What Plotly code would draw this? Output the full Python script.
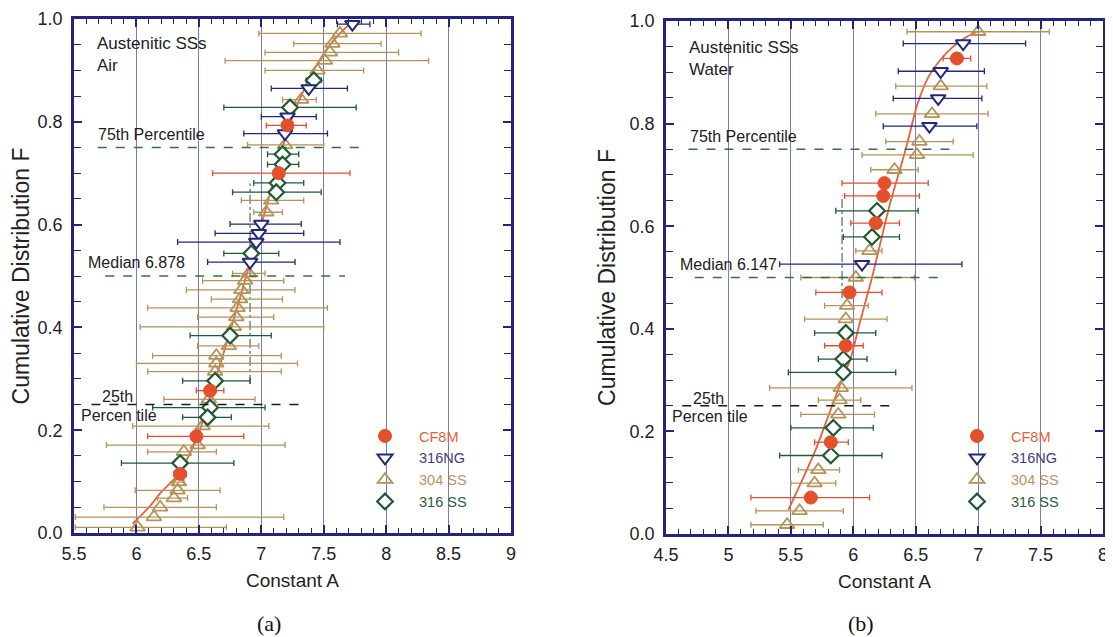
import plotly.graph_objects as go

# ---------------- Panel (a): Air ----------------
AIR_CF8M_A  = [7.21, 7.14, 6.59, 6.48, 6.35]
AIR_CF8M_F  = [0.793, 0.700, 0.277, 0.188, 0.115]
AIR_CF8M_LO = [7.04, 6.61, 6.48, 6.09, 6.30]
AIR_CF8M_HI = [7.36, 7.71, 6.70, 6.86, 6.40]

AIR_NG_A  = [7.73, 7.38, 7.21, 7.19, 7.00, 6.98, 6.96, 6.91]
AIR_NG_F  = [0.990, 0.865, 0.810, 0.777, 0.601, 0.583, 0.566, 0.527]
AIR_NG_LO = [7.61, 7.08, 7.00, 6.86, 6.75, 6.63, 6.33, 6.57]
AIR_NG_HI = [7.87, 7.69, 7.44, 7.53, 7.32, 7.34, 7.63, 7.27]

AIR_304_A  = [7.63, 7.57, 7.55, 7.51, 7.45, 7.32, 7.19, 7.08, 7.04, 6.90, 6.87, 6.84, 6.83, 6.81, 6.80,
              6.78, 6.74, 6.64, 6.64, 6.63, 6.58, 6.53, 6.49, 6.38, 6.34, 6.33, 6.30, 6.19, 6.14, 6.01]
AIR_304_F  = [0.972, 0.952, 0.935, 0.919, 0.900, 0.843, 0.755, 0.647, 0.624, 0.505, 0.491, 0.473, 0.455, 0.438, 0.420,
              0.401, 0.364, 0.345, 0.330, 0.314, 0.260, 0.208, 0.171, 0.158, 0.099, 0.083, 0.068, 0.050, 0.031, 0.011]
AIR_304_LO = [6.98, 7.26, 7.03, 6.71, 7.03, 7.17, 6.89, 6.84, 6.94, 6.77, 6.53, 6.40, 6.60, 6.09, 6.49,
              6.03, 6.49, 6.13, 6.00, 6.09, 6.22, 5.97, 5.76, 6.09, 6.30, 5.99, 6.17, 5.74, 5.51, 5.51]
AIR_304_HI = [8.28, 7.96, 8.10, 8.34, 7.82, 7.44, 7.50, 7.34, 7.17, 7.03, 7.18, 7.27, 7.17, 7.53, 7.10,
              7.50, 6.98, 7.16, 7.29, 7.16, 6.95, 7.06, 7.19, 6.64, 6.38, 6.67, 6.41, 6.64, 7.18, 6.72]

AIR_316_A  = [7.42, 7.23, 7.17, 7.17, 7.13, 7.12, 6.92, 6.75, 6.63, 6.59, 6.57, 6.35]
AIR_316_F  = [0.881, 0.828, 0.737, 0.717, 0.681, 0.663, 0.544, 0.384, 0.296, 0.244, 0.225, 0.136]
AIR_316_LO = [7.36, 6.70, 7.05, 7.05, 6.94, 6.77, 6.70, 6.43, 6.37, 6.13, 6.37, 5.88]
AIR_316_HI = [7.48, 7.76, 7.30, 7.30, 7.34, 7.48, 7.14, 7.08, 6.91, 7.03, 6.76, 6.78]

AIR_FIT_A = [5.97, 6.10, 6.20, 6.34, 6.49, 6.57, 6.66, 6.76, 6.88, 7.00, 7.10, 7.20, 7.30, 7.42, 7.52, 7.63, 7.73]
AIR_FIT_F = [0.018, 0.050, 0.080, 0.115, 0.187, 0.250, 0.320, 0.400, 0.500, 0.600, 0.686, 0.775, 0.840, 0.900, 0.940, 0.972, 0.995]

# ---------------- Panel (b): Water ----------------
WAT_CF8M_A  = [6.83, 6.25, 6.24, 6.18, 5.97, 5.94, 5.82, 5.66]
WAT_CF8M_F  = [0.927, 0.684, 0.659, 0.606, 0.471, 0.367, 0.179, 0.071]
WAT_CF8M_LO = [6.72, 5.91, 5.93, 5.98, 5.70, 5.77, 5.69, 5.18]
WAT_CF8M_HI = [6.94, 6.60, 6.53, 6.37, 6.23, 6.08, 5.96, 6.13]

WAT_NG_A  = [6.88, 6.70, 6.68, 6.61, 6.07]
WAT_NG_F  = [0.956, 0.902, 0.849, 0.795, 0.526]
WAT_NG_LO = [6.40, 6.36, 6.32, 6.24, 5.41]
WAT_NG_HI = [7.38, 7.05, 7.03, 6.99, 6.87]

WAT_304_A  = [7.00, 6.70, 6.63, 6.53, 6.51, 6.33, 6.13, 6.02, 5.95, 5.94, 5.90, 5.89, 5.88, 5.72, 5.69, 5.57, 5.47]
WAT_304_F  = [0.979, 0.873, 0.819, 0.765, 0.739, 0.710, 0.552, 0.500, 0.445, 0.419, 0.285, 0.261, 0.233, 0.125, 0.099, 0.045, 0.018]
WAT_304_LO = [6.43, 6.34, 6.18, 6.26, 6.07, 6.14, 6.02, 5.58, 5.77, 5.61, 5.33, 5.72, 5.58, 5.56, 5.50, 5.22, 5.18]
WAT_304_HI = [7.57, 7.07, 7.08, 6.80, 6.96, 6.52, 6.23, 6.49, 6.12, 6.27, 6.47, 6.06, 6.17, 5.89, 5.86, 5.92, 5.76]

WAT_316_A  = [6.19, 6.15, 5.94, 5.92, 5.92, 5.84, 5.82]
WAT_316_F  = [0.630, 0.579, 0.392, 0.341, 0.315, 0.207, 0.153]
WAT_316_LO = [5.86, 5.92, 5.69, 5.72, 5.48, 5.50, 5.41]
WAT_316_HI = [6.52, 6.37, 6.18, 6.11, 6.34, 6.16, 6.23]

WAT_FIT_A = [5.48, 5.60, 5.70, 5.80, 5.90, 5.98, 6.05, 6.15, 6.29, 6.42, 6.51, 6.60, 6.70, 6.80, 6.90, 7.00]
WAT_FIT_F = [0.047, 0.110, 0.165, 0.230, 0.295, 0.343, 0.410, 0.500, 0.640, 0.750, 0.835, 0.890, 0.925, 0.950, 0.968, 0.980]

# percentile reference lines
PCT_LEVELS = [0.25, 0.50, 0.75]
AIR_PCT_X0 = [5.64, 5.75, 5.69]
AIR_PCT_X1 = [7.31, 7.67, 7.81]
WAT_PCT_X0 = [4.63, 4.73, 4.68]
WAT_PCT_X1 = [6.33, 6.68, 6.82]

SERIES_NAMES = ["CF8M", "316NG", "304 SS", "316 SS"]

# ---------------- styles ----------------
NAVY = "#24247a"
GRID = "#7a7ac0"
RED = "#e4502c"
NG_COL = "#22287a"
T304 = "#b3935a"
G316 = "#1f5a34"
FIT_COL = "#e8603c"
DASH_COL = "#3d6b48"
SANS = "Liberation Sans, Arial, sans-serif"

STY = {
    "CF8M":   dict(symbol="circle", size=13, color=RED, line=dict(color=RED, width=1), bar=RED, txt="#e2603e"),
    "316NG":  dict(symbol="triangle-down", size=13, color="white", line=dict(color=NG_COL, width=2), bar=NG_COL, txt="#3c3c86"),
    "304 SS": dict(symbol="triangle-up-open", size=13, color=T304, line=dict(color=T304, width=1.8), bar=T304, txt="#b8955e"),
    "316 SS": dict(symbol="diamond", size=12, color="white", line=dict(color=G316, width=2.2), bar=G316, txt="#2c6040"),
}

fig = go.Figure()


def add_series(name, A, F, lo, hi, xa, ya, legend):
    s = STY[name]
    plus = [h - a for h, a in zip(hi, A)]
    minus = [a - l for a, l in zip(A, lo)]
    fig.add_trace(go.Scatter(
        x=A, y=F, mode="markers", xaxis=xa, yaxis=ya, showlegend=False, cliponaxis=False,
        marker=dict(symbol=s["symbol"], size=s["size"], color=s["color"], line=s["line"]),
        error_x=dict(type="data", symmetric=False, array=plus, arrayminus=minus,
                     color=s["bar"], thickness=1.3, width=3),
    ))
    fig.add_trace(go.Scatter(
        x=[None], y=[None], mode="markers", xaxis=xa, yaxis=ya, legend=legend,
        legendrank=SERIES_NAMES.index(name) + 1,
        name='<span style="color:%s">%s</span>' % (s["txt"], name),
        marker=dict(symbol=s["symbol"], size=s["size"], color=s["color"], line=s["line"]),
    ))


PANELS = [
    ("x", "y", AIR_FIT_A, AIR_FIT_F, "legend", {
        "304 SS": (AIR_304_A, AIR_304_F, AIR_304_LO, AIR_304_HI),
        "316 SS": (AIR_316_A, AIR_316_F, AIR_316_LO, AIR_316_HI),
        "316NG": (AIR_NG_A, AIR_NG_F, AIR_NG_LO, AIR_NG_HI),
        "CF8M": (AIR_CF8M_A, AIR_CF8M_F, AIR_CF8M_LO, AIR_CF8M_HI)}),
    ("x2", "y2", WAT_FIT_A, WAT_FIT_F, "legend2", {
        "304 SS": (WAT_304_A, WAT_304_F, WAT_304_LO, WAT_304_HI),
        "316 SS": (WAT_316_A, WAT_316_F, WAT_316_LO, WAT_316_HI),
        "316NG": (WAT_NG_A, WAT_NG_F, WAT_NG_LO, WAT_NG_HI),
        "CF8M": (WAT_CF8M_A, WAT_CF8M_F, WAT_CF8M_LO, WAT_CF8M_HI)}),
]
for xa, ya, fitA, fitF, legend, series in PANELS:
    fig.add_trace(go.Scatter(x=fitA, y=fitF, mode="lines", xaxis=xa, yaxis=ya, showlegend=False,
                             line=dict(color=FIT_COL, width=1.8, shape="spline", smoothing=0.6)))
    for nm in ["304 SS", "316 SS", "316NG", "CF8M"]:
        A, F, lo, hi = series[nm]
        add_series(nm, A, F, lo, hi, xa, ya, legend)

# percentile dashed lines
for xr, yr, X0, X1 in [("x", "y", AIR_PCT_X0, AIR_PCT_X1), ("x2", "y2", WAT_PCT_X0, WAT_PCT_X1)]:
    for lvl, x0, x1 in zip(PCT_LEVELS, X0, X1):
        col = "#1a1a1a" if lvl == 0.25 else DASH_COL
        fig.add_shape(type="line", xref=xr, yref=yr, x0=x0, x1=x1, y0=lvl, y1=lvl,
                      line=dict(color=col, width=1.3, dash="dash"))

# faint vertical dash-dot marks near the median
fig.add_shape(type="line", xref="x", yref="y", x0=6.91, x1=6.91, y0=0.29, y1=0.68,
              line=dict(color="#2f4f3a", width=1, dash="dashdot"), layer="below")
fig.add_shape(type="line", xref="x2", yref="y2", x0=5.91, x1=5.91, y0=0.46, y1=0.66,
              line=dict(color="#2f4f3a", width=1, dash="dashdot"), layer="below")

# text annotations inside panels
ANN = [
    ("x", "y", 5.67, 0.952, "Austenitic SSs", 17),
    ("x", "y", 5.67, 0.910, "Air", 17),
    ("x", "y", 5.68, 0.775, "75th Percentile", 16),
    ("x", "y", 5.60, 0.527, "Median 6.878", 16),
    ("x", "y", 5.71, 0.266, "25th", 16),
    ("x", "y", 5.54, 0.229, "Percen tile", 16),
    ("x2", "y2", 4.67, 0.948, "Austenitic SSs", 17),
    ("x2", "y2", 4.67, 0.906, "Water", 17),
    ("x2", "y2", 4.68, 0.775, "75th Percentile", 16),
    ("x2", "y2", 4.60, 0.526, "Median 6.147", 16),
    ("x2", "y2", 4.70, 0.265, "25th", 16),
    ("x2", "y2", 4.53, 0.230, "Percen tile", 16),
]
for xr, yr, x, y, t, fs in ANN:
    fig.add_annotation(xref=xr, yref=yr, x=x, y=y, text=t, showarrow=False, xanchor="left",
                       yanchor="middle", font=dict(family=SANS, size=fs, color="#222222"))

# page has an 8px body margin: figure pixel = page pixel - 8
OFF = 8
W, H = 1113 - OFF, 637 - OFF


def px_x(p):
    return (p - OFF) / W


def px_y(p):
    return (637 - p) / H


for px, t in [(269, "(a)"), (861, "(b)")]:
    fig.add_annotation(xref="paper", yref="paper", x=px_x(px), y=px_y(623), text=t, showarrow=False,
                       xanchor="center", yanchor="middle",
                       font=dict(family="Liberation Serif, Times New Roman, serif", size=22, color="#111"))


def xaxis(domain, rng, anchor):
    return dict(domain=domain, range=rng, anchor=anchor, dtick=0.5, tick0=0, automargin=False,
                ticks="inside", ticklen=8, tickwidth=1.5, tickcolor=NAVY,
                showline=True, linecolor=NAVY, linewidth=2.5, mirror="allticks",
                showgrid=True, gridcolor=GRID, gridwidth=1.2, zeroline=False, ticklabelstandoff=3,
                tickfont=dict(family=SANS, size=18, color="#222"),
                minor=dict(dtick=0.1, ticks="inside", ticklen=5, tickwidth=1.3, tickcolor=NAVY, showgrid=False),
                title=dict(text="Constant A", font=dict(family=SANS, size=19, color="#222"), standoff=11))


def yaxis(domain, anchor):
    return dict(domain=domain, range=[0, 1], anchor=anchor, dtick=0.2, tick0=0, tickformat=".1f",
                automargin=False,
                ticks="inside", ticklen=8, tickwidth=1.5, tickcolor=NAVY,
                showline=True, linecolor=NAVY, linewidth=2.5, mirror="allticks",
                showgrid=False, zeroline=False, ticklabelstandoff=5,
                tickfont=dict(family=SANS, size=18, color="#222"),
                minor=dict(dtick=0.05, ticks="inside", ticklen=7, tickwidth=1.3, tickcolor=NAVY, showgrid=False),
                title=dict(text="Cumulative Distribution F", font=dict(family=SANS, size=23, color="#222"), standoff=8))


fig.update_layout(
    width=W, height=H, margin=dict(l=0, r=0, t=0, b=0, autoexpand=False),
    paper_bgcolor="white", plot_bgcolor="white",
    xaxis=xaxis([px_x(74), px_x(511)], [5.5, 9], "y"),
    yaxis=yaxis([px_y(533), px_y(19)], "x"),
    xaxis2=xaxis([px_x(666), px_x(1103)], [4.5, 8], "y2"),
    yaxis2=yaxis([px_y(534), px_y(21)], "x2"),
    legend=dict(x=px_x(351), y=px_y(420), xanchor="left", yanchor="top",
                bgcolor="rgba(0,0,0,0)", font=dict(family=SANS, size=14.5), itemwidth=58,
                tracegroupgap=0, traceorder="normal"),
    legend2=dict(x=px_x(943), y=px_y(420), xanchor="left", yanchor="top",
                 bgcolor="rgba(0,0,0,0)", font=dict(family=SANS, size=14.5), itemwidth=58,
                 tracegroupgap=0, traceorder="normal"),
)

fig.write_html("out.html")
